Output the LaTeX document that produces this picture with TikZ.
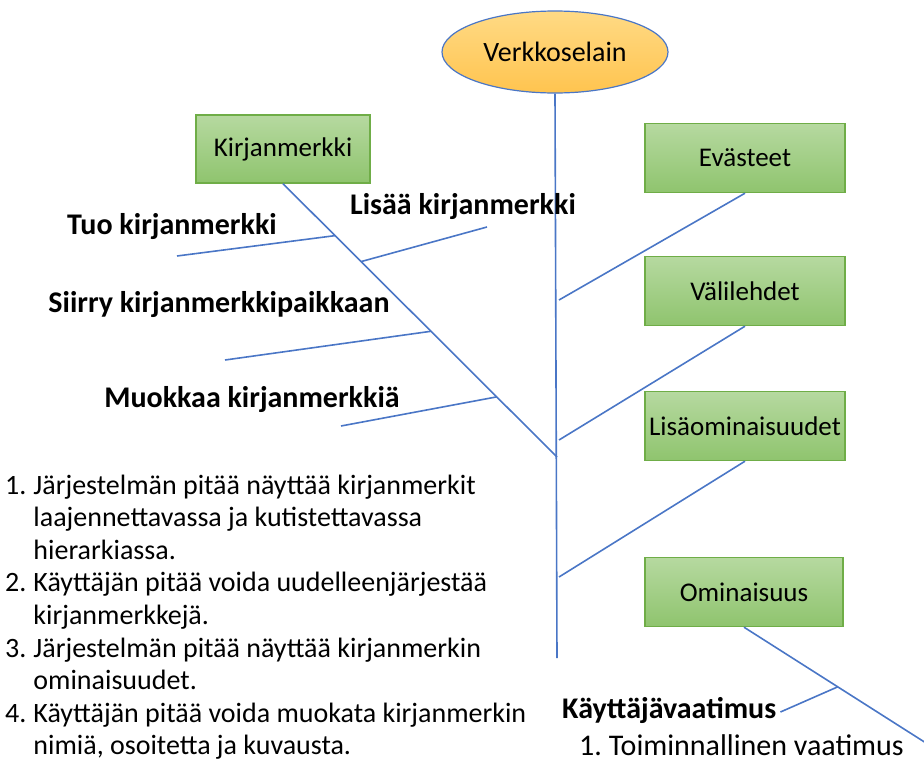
\documentclass[tikz,border=0pt]{standalone}
\usepackage{fontspec}
\setmainfont{Carlito}
\usetikzlibrary{shapes.geometric,calc}
\definecolor{lineblue}{HTML}{4A76C6}
\definecolor{boxedge}{HTML}{6FAD47}
\definecolor{boxtop}{HTML}{B6D9A0}
\definecolor{boxbot}{HTML}{8FC46E}
\definecolor{elltop}{HTML}{FFDA85}
\definecolor{ellbot}{HTML}{FFC44F}
\tikzset{
  featbox/.style={rectangle, draw=boxedge, line width=1.4pt, top color=boxtop, bottom color=boxbot,
    minimum width=200pt, minimum height=69pt, inner sep=0pt, font=\fontsize{27}{32}\selectfont},
  rootell/.style={ellipse, draw=lineblue, line width=1.2pt, top color=elltop, bottom color=ellbot,
    minimum width=226pt, minimum height=82pt, inner sep=0pt, font=\fontsize{28}{32}\selectfont},
  branch/.style={draw=lineblue, line width=1.6pt},
  blabel/.style={font=\fontsize{30}{34}\selectfont\bfseries, inner sep=0pt},
  ptext/.style={font=\fontsize{28}{32.6}\selectfont\frenchspacing, inner sep=0pt}
}
\begin{document}
\begin{tikzpicture}[x=1pt,y=-1pt]
\useasboundingbox (0,0) rectangle (924,761);
% nodes
\node[rootell] (root) at (555,52) {Verkkoselain};
\node[featbox, minimum width=174pt, minimum height=68pt] (kirja) at (283,149) {Kirjanmerkki};
\node[featbox] (evas) at (745,158) {Evästeet};
\node[featbox] (vali) at (745,291) {Välilehdet};
\node[featbox] (lisa) at (745,426) {Lisäominaisuudet};
\node[featbox, minimum width=198pt, minimum height=69pt] (omin) at (744,592) {Ominaisuus};
% spine and branch ends
\coordinate (spineend) at (557,658);
\coordinate (kj) at (557,457);
\coordinate (ej) at (559,300);
\coordinate (vj) at (559,440);
\coordinate (lj) at (559,577);
\coordinate (oend) at (926,743);
\draw[branch] (root.south) -- (spineend);
\draw[branch] (kirja.south) -- (kj);
\draw[branch] (evas.south) -- (ej);
\draw[branch] (vali.south) -- (vj);
\draw[branch] (lisa.south) -- (lj);
\draw[branch] (omin.south) -- (oend);
% sub-branches on Kirjanmerkki line
\coordinate (tuoA) at ($(kirja.south)!0.19!(kj)$);
\coordinate (tuoB) at (177,256);
\coordinate (lisA) at ($(kirja.south)!0.285!(kj)$);
\coordinate (lisB) at (487,227);
\coordinate (siiA) at ($(kirja.south)!0.54!(kj)$);
\coordinate (siiB) at (225,360);
\coordinate (muoA) at ($(kirja.south)!0.78!(kj)$);
\coordinate (muoB) at (341,426);
\draw[branch] (tuoB) -- (tuoA);
\draw[branch] (lisA) -- (lisB);
\draw[branch] (siiB) -- (siiA);
\draw[branch] (muoB) -- (muoA);
% labels
\node[blabel] (tuo) at (172,227) {Tuo kirjanmerkki};
\node[blabel] (lisaa) at (463,207) {Lisää kirjanmerkki};
\node[blabel] (siirry) at (219,305) {Siirry kirjanmerkkipaikkaan};
\node[blabel] (muok) at (252,400) {Muokkaa kirjanmerkkiä};
% user requirement
\node[blabel, anchor=west] (kayt) at (562,710) {Käyttäjävaatimus};
\coordinate (kaytA) at ($(omin.south)!0.515!(oend)$);
\draw[branch] (kayt.east) ++(4,2) coordinate (kaytB) -- (kaytA);
\node[font=\fontsize{30}{33}\selectfont\frenchspacing, inner sep=0pt, anchor=west] (toim) at (579,745) {1. Toiminnallinen vaatimus};
% list
\node[ptext, anchor=north west] (lista) at (5,471) {%
\begin{tabular}{@{}l@{\hspace{7pt}}l@{}}
1. & Järjestelmän pitää näyttää kirjanmerkit\\
   & laajennettavassa ja kutistettavassa\\
   & hierarkiassa.\\
2. & Käyttäjän pitää voida uudelleenjärjestää\\
   & kirjanmerkkejä.\\
3. & Järjestelmän pitää näyttää kirjanmerkin\\
   & ominaisuudet.\\
4. & Käyttäjän pitää voida muokata kirjanmerkin\\
   & nimiä, osoitetta ja kuvausta.
\end{tabular}};
\end{tikzpicture}
\end{document}
